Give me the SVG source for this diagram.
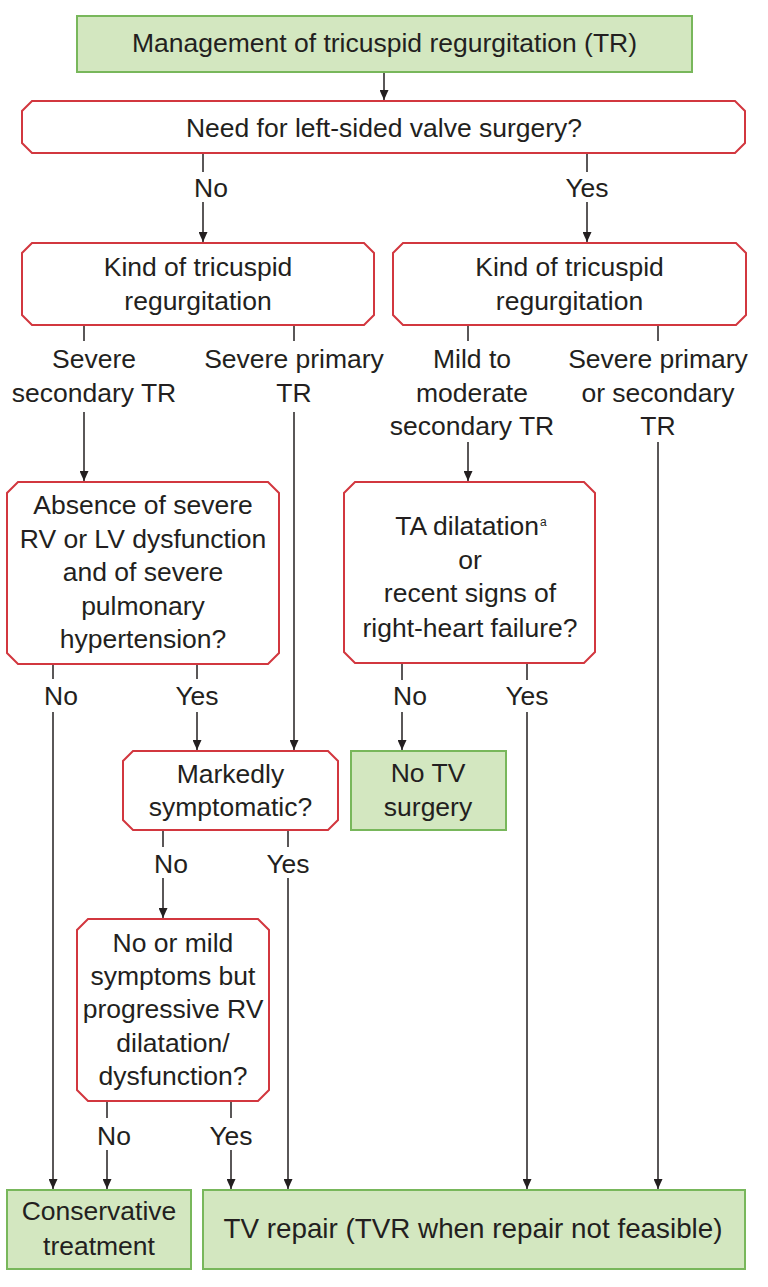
<svg xmlns="http://www.w3.org/2000/svg" width="768" height="1287" viewBox="0 0 768 1287">
<style>
text{font-family:"Liberation Sans",Arial,sans-serif;font-size:26.5px;fill:#231f20;text-anchor:middle}
.term{fill:#d3e7c0;stroke:#78b75b;stroke-width:2}
.dec{fill:#ffffff;stroke:#d2373f;stroke-width:2}
.con line{stroke:#231f20;stroke-width:1.5}
.sup{font-size:12px}
</style>
<defs>
<marker id="ah" markerUnits="userSpaceOnUse" markerWidth="10" markerHeight="9" refX="10" refY="4.5" orient="auto">
<path d="M0,0 L10,4.5 L0,9 Z" fill="#231f20"/>
</marker>
</defs>
<rect width="768" height="1287" fill="#ffffff"/>

<g id="connectors" class="con">
<line x1="384" y1="72" x2="384" y2="100" marker-end="url(#ah)"/>
<line x1="203" y1="154" x2="203" y2="172"/>
<line x1="203" y1="202" x2="203" y2="242" marker-end="url(#ah)"/>
<line x1="587" y1="154" x2="587" y2="172"/>
<line x1="587" y1="202" x2="587" y2="242" marker-end="url(#ah)"/>
<line x1="84" y1="326" x2="84" y2="341"/>
<line x1="84" y1="412" x2="84" y2="481" marker-end="url(#ah)"/>
<line x1="294" y1="326" x2="294" y2="341"/>
<line x1="294" y1="412" x2="294" y2="750" marker-end="url(#ah)"/>
<line x1="468" y1="326" x2="468" y2="341"/>
<line x1="468" y1="442" x2="468" y2="481" marker-end="url(#ah)"/>
<line x1="658" y1="326" x2="658" y2="341"/>
<line x1="658" y1="442" x2="658" y2="1189" marker-end="url(#ah)"/>
<line x1="53" y1="665" x2="53" y2="679"/>
<line x1="53" y1="712" x2="53" y2="1189" marker-end="url(#ah)"/>
<line x1="197" y1="665" x2="197" y2="679"/>
<line x1="197" y1="712" x2="197" y2="750" marker-end="url(#ah)"/>
<line x1="402" y1="664" x2="402" y2="680"/>
<line x1="402" y1="712" x2="402" y2="750" marker-end="url(#ah)"/>
<line x1="527" y1="664" x2="527" y2="680"/>
<line x1="527" y1="712" x2="527" y2="1189" marker-end="url(#ah)"/>
<line x1="163" y1="831" x2="163" y2="847"/>
<line x1="163" y1="878" x2="163" y2="918" marker-end="url(#ah)"/>
<line x1="288" y1="831" x2="288" y2="847"/>
<line x1="288" y1="878" x2="288" y2="1189" marker-end="url(#ah)"/>
<line x1="107" y1="1102" x2="107" y2="1118"/>
<line x1="107" y1="1150" x2="107" y2="1189" marker-end="url(#ah)"/>
<line x1="231" y1="1102" x2="231" y2="1118"/>
<line x1="231" y1="1150" x2="231" y2="1189" marker-end="url(#ah)"/>
</g>

<g id="labels">
<text x="211" y="197">No</text>
<text x="587" y="197">Yes</text>
<text x="94" y="368">Severe</text>
<text x="94" y="402">secondary TR</text>
<text x="294" y="368">Severe primary</text>
<text x="294" y="402">TR</text>
<text x="472" y="368">Mild to</text>
<text x="472" y="401.5">moderate</text>
<text x="472" y="435">secondary TR</text>
<text x="658" y="368">Severe primary</text>
<text x="658" y="401.5">or secondary</text>
<text x="658" y="435">TR</text>
<text x="61" y="705">No</text>
<text x="197" y="705">Yes</text>
<text x="410" y="705">No</text>
<text x="527" y="705">Yes</text>
<text x="171" y="873">No</text>
<text x="288" y="873">Yes</text>
<text x="114" y="1145">No</text>
<text x="231" y="1145">Yes</text>
</g>

<g id="n-start">
<rect class="term" x="77" y="16" width="615" height="56"/>
<text x="384.5" y="52">Management of tricuspid regurgitation (TR)</text>
</g>
<g id="n-leftsided">
<path class="dec" d="M32,101 H735 L745,111 V143 L735,153 H32 L22,143 V111 Z"/>
<text x="384" y="137">Need for left-sided valve surgery?</text>
</g>
<g id="n-kind-no">
<path class="dec" d="M32,243 H364 L374,253 V315 L364,325 H32 L22,315 V253 Z"/>
<text x="198" y="276">Kind of tricuspid</text>
<text x="198" y="310">regurgitation</text>
</g>
<g id="n-kind-yes">
<path class="dec" d="M403,243 H736 L746,253 V315 L736,325 H403 L393,315 V253 Z"/>
<text x="569.5" y="276">Kind of tricuspid</text>
<text x="569.5" y="310">regurgitation</text>
</g>
<g id="n-absence">
<path class="dec" d="M18,482 H268 L279,493 V653 L268,664 H18 L7,653 V493 Z"/>
<text x="143" y="514">Absence of severe</text>
<text x="143" y="547.5">RV or LV dysfunction</text>
<text x="143" y="581">and of severe</text>
<text x="143" y="614.5">pulmonary</text>
<text x="143" y="648">hypertension?</text>
</g>
<g id="n-ta">
<path class="dec" d="M355,482 H584 L595,493 V652 L584,663 H355 L344,652 V493 Z"/>
<text x="471" y="535">TA dilatation<tspan class="sup" dx="1" dy="-9">a</tspan></text>
<text x="470" y="569">or</text>
<text x="470" y="602">recent signs of</text>
<text x="470" y="636.5">right-heart failure?</text>
</g>
<g id="n-marked">
<path class="dec" d="M133,751 H328 L338,761 V820 L328,830 H133 L123,820 V761 Z"/>
<text x="230.5" y="783">Markedly</text>
<text x="230.5" y="816">symptomatic?</text>
</g>
<g id="n-notv">
<rect class="term" x="351" y="751" width="155" height="79"/>
<text x="428" y="782">No TV</text>
<text x="428" y="815.5">surgery</text>
</g>
<g id="n-nomild">
<path class="dec" d="M88,919 H258 L269,930 V1090 L258,1101 H88 L77,1090 V930 Z"/>
<text x="173" y="952">No or mild</text>
<text x="173" y="985">symptoms but</text>
<text x="173" y="1018">progressive RV</text>
<text x="173" y="1052">dilatation/</text>
<text x="173" y="1085">dysfunction?</text>
</g>
<g id="n-conservative">
<rect class="term" x="7" y="1190" width="184" height="79"/>
<text x="99" y="1220">Conservative</text>
<text x="99" y="1255">treatment</text>
</g>
<g id="n-repair">
<rect class="term" x="203" y="1190" width="542" height="79"/>
<text x="473" y="1238" style="font-size:27.8px">TV repair (TVR when repair not feasible)</text>
</g>
</svg>
